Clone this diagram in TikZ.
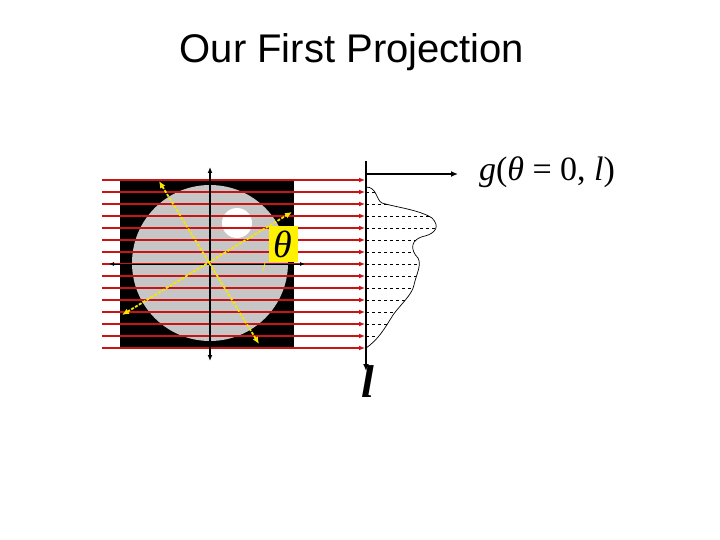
\documentclass[tikz,border=0pt]{standalone}
\usepackage{fontspec}
\setmainfont{Liberation Serif}
\newfontfamily\arial{Liberation Sans}
\usetikzlibrary{arrows.meta}
\definecolor{rayred}{RGB}{200,20,20}
\definecolor{ylw}{RGB}{250,230,0}
\begin{document}
\begin{tikzpicture}[x=1pt,y=-1pt,
  ray/.style={draw=rayred,line width=2pt,-{Latex[length=6pt,width=5pt]}},
  yax/.style={draw=ylw,line width=1.8pt,dash pattern=on 3pt off 1.5pt,{Latex[length=7pt,width=6pt]}-{Latex[length=7pt,width=6pt]}}]
\useasboundingbox (0,0) rectangle (720,540);
\node[font=\arial\fontsize{40}{44}\selectfont] (title) at (352,52) {Our First Projection};
\fill[black] (120,179) rectangle (294,349);
\fill[gray!45] (210,263) circle (78);
\fill[white] (237,223) circle (15);
\def\prof{(366,187) .. controls (377,187) and (376,200) .. (382,203) .. controls (395,207) and (420,210) .. (432,218) .. controls (440,226) and (436,233) .. (425,236) .. controls (410,239) and (410,250) .. (418,258) .. controls (422,265) and (416,275) .. (414,285) .. controls (412,295) and (400,305) .. (393,315) .. controls (385,328) and (378,340) .. (366,348)}
\begin{scope}
\clip \prof -- cycle;
\foreach \y in {192,204,216,228,240,252,264,276,288,300,312,324,336}
  \draw[dashed,line width=0.7pt] (366,\y) -- (450,\y);
\end{scope}
\draw[line width=0.7pt] \prof;
\foreach \y in {180,192,204,216,228,240,252,264,276,288,300,312,324,336,348}
  \draw[ray] (102,\y) -- (365,\y);
\coordinate (vt) at (210,167); \coordinate (vb) at (210,361);
\draw[line width=1.8pt,{Latex[length=6pt,width=5pt]}-{Latex[length=6pt,width=5pt]}] (vt) -- (vb);
\coordinate (hl) at (109,264); \coordinate (hr) at (305,264);
\draw[line width=0.9pt,{Latex[length=5pt,width=4pt]}-{Latex[length=5pt,width=4pt]}] (hl) -- (hr);
\coordinate (ya) at (159,181); \coordinate (yb) at (259,344);
\draw[yax] (ya) -- (yb);
\coordinate (yc) at (122,315); \coordinate (yd) at (292,212);
\draw[yax] (yc) -- (yd);
\draw[ylw,line width=0.8pt] (265,262) arc[start angle=0,end angle=30,radius=18];
\node[fill=yellow,inner sep=0pt,minimum width=29pt,minimum height=35pt,font=\fontsize{38}{38}\selectfont\itshape] (theta) at (283,244) {θ};
\coordinate (dt) at (366,161); \coordinate (db) at (366,371);
\draw[line width=1.8pt,-{Latex[length=7pt,width=6pt]}] (dt) -- (db);
\coordinate (gr) at (458,174);
\draw[line width=1.8pt,-{Latex[length=7pt,width=6pt]}] (366,174) -- (gr);
\node[font=\fontsize{34}{36}\selectfont] (g) at (547,172) {\textit{g}(\textit{θ} = 0, \textit{l})};
\node[font=\fontsize{46}{46}\selectfont\bfseries\itshape] (l) at (368,382) {l};
\end{tikzpicture}
\end{document}
